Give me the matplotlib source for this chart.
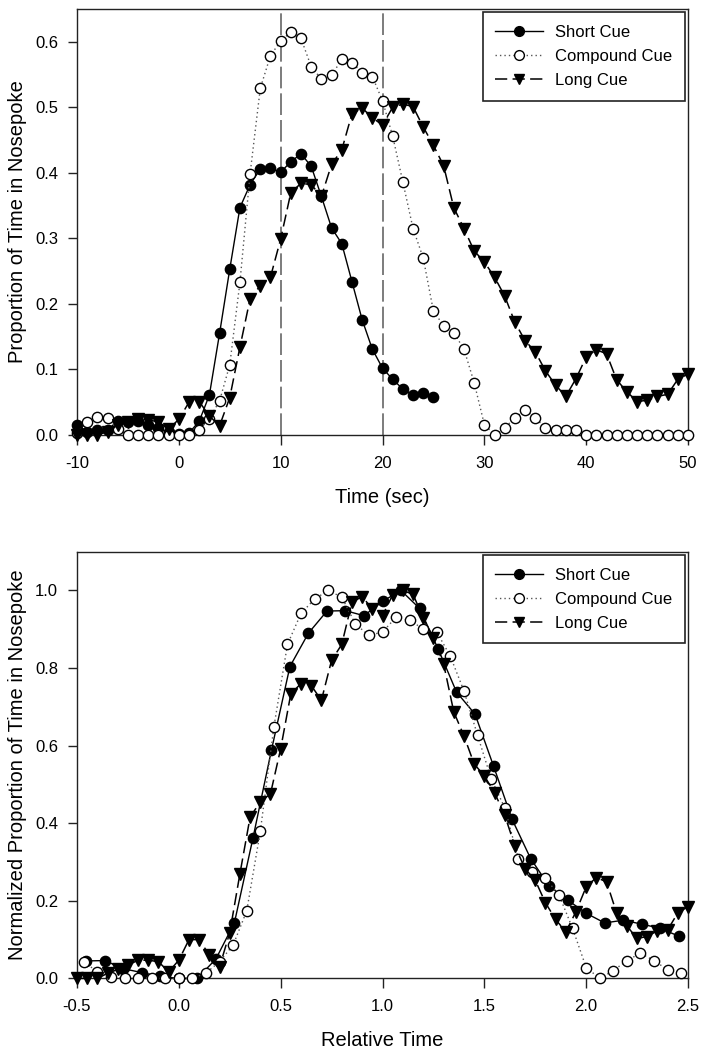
import numpy as np
import matplotlib
matplotlib.use("Agg")
import matplotlib.pyplot as plt

plt.rcParams['font.family'] = ['Liberation Sans', 'DejaVu Sans']
plt.rcParams['axes.unicode_minus'] = False

# ---------------- data: top panel (time in sec, 1-s bins) ----------------
time_short = list(range(-10, 26))
time_long = list(range(-10, 51))
time_compound = list(range(-10, 51))

short_cue = [0.016, 0.005, 0.007, 0.008, 0.021, 0.020, 0.021, 0.015, 0.010, 0.004,
             0.002, 0.003, 0.021, 0.061, 0.155, 0.253, 0.347, 0.382, 0.406, 0.407,
             0.401, 0.417, 0.429, 0.410, 0.364, 0.316, 0.292, 0.234, 0.176, 0.131,
             0.102, 0.085, 0.070, 0.061, 0.064, 0.058]

compound_cue = [0.003, 0.020, 0.028, 0.026, 0.009, 0.0, 0.0, 0.0, 0.0, 0.0,
                0.0, 0.0, 0.008, 0.025, 0.052, 0.107, 0.233, 0.399, 0.529, 0.579,
                0.601, 0.615, 0.605, 0.562, 0.543, 0.549, 0.573, 0.568, 0.553, 0.547,
                0.510, 0.456, 0.386, 0.315, 0.270, 0.189, 0.167, 0.156, 0.131, 0.080,
                0.016, 0.0, 0.011, 0.026, 0.038, 0.026, 0.011, 0.008, 0.008, 0.008,
                0.0, 0.0, 0.0, 0.0, 0.0, 0.0, 0.0, 0.0, 0.0, 0.0, 0.0]

long_cue = [0.0, 0.0, 0.0, 0.005, 0.015, 0.020, 0.024, 0.023, 0.020, 0.009,
            0.024, 0.050, 0.051, 0.029, 0.014, 0.057, 0.134, 0.208, 0.228, 0.241,
            0.299, 0.370, 0.384, 0.382, 0.364, 0.413, 0.435, 0.490, 0.499, 0.484,
            0.473, 0.500, 0.505, 0.501, 0.470, 0.442, 0.411, 0.347, 0.315, 0.281,
            0.264, 0.241, 0.212, 0.172, 0.144, 0.127, 0.098, 0.076, 0.059, 0.086,
            0.119, 0.130, 0.124, 0.084, 0.066, 0.051, 0.053, 0.059, 0.062, 0.085,
            0.093]

cue_lines_sec = [10, 20]

# ---------------- data: bottom panel (relative time, normalized) ----------------
short_dur, compound_dur, long_dur = 11, 15, 20
bins_short_rel = list(range(-5, 28))
bins_compound_rel = list(range(-7, 38))
bins_long_rel = list(range(-10, 51))

short_norm = [0.045, 0.046, 0.025, 0.015, 0.005, 0.0, 0.0, 0.050, 0.143, 0.361,
              0.588, 0.804, 0.890, 0.947, 0.948, 0.935, 0.972, 1.0, 0.954, 0.850,
              0.738, 0.681, 0.547, 0.410, 0.309, 0.238, 0.202, 0.168, 0.143, 0.150,
              0.140, 0.129, 0.109]

compound_norm = [0.043, 0.017, 0.003, 0.0, 0.0, 0.0, 0.0, 0.0, 0.0, 0.014,
                 0.043, 0.086, 0.174, 0.379, 0.648, 0.861, 0.941, 0.978, 1.0, 0.983,
                 0.914, 0.884, 0.893, 0.931, 0.923, 0.901, 0.893, 0.830, 0.741, 0.627,
                 0.515, 0.440, 0.309, 0.275, 0.258, 0.215, 0.129, 0.028, 0.0, 0.020,
                 0.046, 0.065, 0.046, 0.022, 0.015]

long_norm = [0.0, 0.0, 0.0, 0.013, 0.023, 0.034, 0.047, 0.047, 0.043, 0.017,
             0.047, 0.100, 0.100, 0.060, 0.030, 0.118, 0.270, 0.416, 0.455, 0.476,
             0.592, 0.734, 0.760, 0.755, 0.717, 0.820, 0.861, 0.970, 0.984, 0.953,
             0.935, 0.989, 1.0, 0.990, 0.929, 0.877, 0.811, 0.687, 0.625, 0.553,
             0.522, 0.479, 0.421, 0.341, 0.283, 0.253, 0.195, 0.152, 0.120, 0.172,
             0.236, 0.260, 0.249, 0.168, 0.135, 0.103, 0.108, 0.123, 0.125, 0.169,
             0.185]

labels = ["Short Cue", "Compound Cue", "Long Cue"]

# ---------------- styles ----------------
MS = 7.4
style_short = dict(color='black', linestyle='-', linewidth=1.0, marker='o', markersize=MS,
                   markerfacecolor='black', markeredgecolor='black', markeredgewidth=1.0)
style_comp = dict(color='#555555', linestyle=(0, (1, 2.2)), linewidth=1.0, marker='o',
                  markersize=MS, markerfacecolor='white', markeredgecolor='black',
                  markeredgewidth=1.0)
style_long = dict(color='black', linestyle=(0, (8, 3.5)), linewidth=1.1, marker='v',
                  markersize=MS + 0.7, markerfacecolor='black', markeredgecolor='black',
                  markeredgewidth=1.0)

fig = plt.figure(figsize=(7.02, 10.5), dpi=100)
W, H = 702, 1050
ax1 = fig.add_axes([77 / W, 1 - 435 / H, (688 - 77) / W, (435 - 9) / H])
ax2 = fig.add_axes([77 / W, 1 - 978.4 / H, (688 - 77) / W, (978.4 - 551.7) / H])

LABEL_FS = 14.5


def style_axes(ax):
    for s in ax.spines.values():
        s.set_linewidth(1.0)
        s.set_color('#222222')
    ax.tick_params(axis='x', which='major', direction='out', length=7, width=1.0,
                   labelsize=12, colors='#222222', top=False, pad=8)
    ax.tick_params(axis='y', which='major', direction='out', length=6.5, width=1.0,
                   labelsize=12, colors='#222222', right=False, pad=7)
    for lab in ax.get_xticklabels() + ax.get_yticklabels():
        lab.set_color('black')


# top panel
for xv in cue_lines_sec:
    ax1.axvline(xv, color='#666666', linewidth=1.2, linestyle=(0, (13, 3)), zorder=1)
ax1.plot(time_short, short_cue, label=labels[0], zorder=3, **style_short)
ax1.plot(time_compound, compound_cue, label=labels[1], zorder=3, **style_comp)
ax1.plot(time_long, long_cue, label=labels[2], zorder=3, **style_long)
ax1.set_xlim(-10, 50)
ax1.set_ylim(0, 0.65)
ax1.set_xticks(np.arange(-10, 51, 10))
ax1.set_yticks(np.arange(0, 0.61, 0.1))
ax1.yaxis.set_major_formatter(matplotlib.ticker.FormatStrFormatter('%.1f'))
ax1.set_xlabel("Time (sec)", fontsize=LABEL_FS, labelpad=12)
ax1.set_ylabel("Proportion of Time in Nosepoke", fontsize=LABEL_FS, labelpad=6)
style_axes(ax1)

# bottom panel
ax2.plot(np.array(bins_short_rel) / short_dur, short_norm, label=labels[0], zorder=3, **style_short)
ax2.plot(np.array(bins_compound_rel) / compound_dur, compound_norm, label=labels[1], zorder=3, **style_comp)
ax2.plot(np.array(bins_long_rel) / long_dur, long_norm, label=labels[2], zorder=3, **style_long)
ax2.set_xlim(-0.5, 2.5)
ax2.set_ylim(0, 1.1)
ax2.set_xticks(np.arange(-0.5, 2.51, 0.5))
ax2.set_yticks(np.arange(0, 1.01, 0.2))
ax2.xaxis.set_major_formatter(matplotlib.ticker.FormatStrFormatter('%.1f'))
ax2.yaxis.set_major_formatter(matplotlib.ticker.FormatStrFormatter('%.1f'))
ax2.set_xlabel("Relative Time", fontsize=LABEL_FS, labelpad=12)
ax2.set_ylabel("Normalized Proportion of Time in Nosepoke", fontsize=LABEL_FS, labelpad=6)
style_axes(ax2)

for ax in (ax1, ax2):
    for line in ax.get_lines():
        line.set_clip_on(False)
    leg = ax.legend(loc='upper right', fontsize=12, frameon=True, fancybox=False,
                    edgecolor='#222222', framealpha=1, borderaxespad=0.2,
                    handlelength=2.9, handletextpad=0.7, labelspacing=0.55,
                    borderpad=0.75, markerscale=0.95)
    leg.get_frame().set_linewidth(1.2)
    leg.set_zorder(5)

fig.savefig("out.png", dpi=100, facecolor='white')
